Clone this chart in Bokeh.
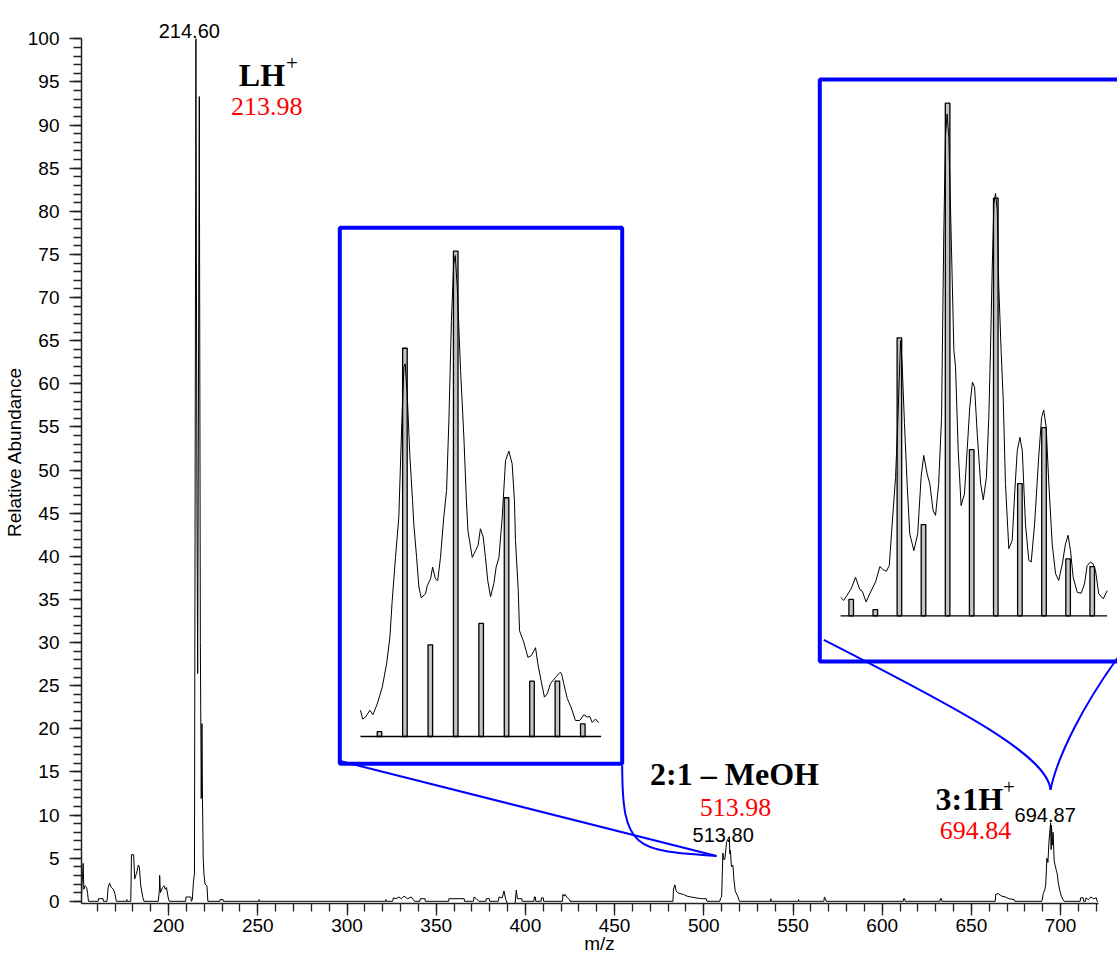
from bokeh.plotting import figure
from bokeh.models import Range1d, FixedTicker, Label
from bokeh.embed import file_html
from bokeh.resources import INLINE

# ---------------- data ----------------
# main spectrum (m/z, relative abundance)
main_mz = [151.1, 151.5, 152.1, 152.5, 153.1, 154.1, 154.6, 155.1,
           160.5, 160.7, 163.3, 163.5,
           165.5, 166.1, 166.9, 167.9, 169.1, 170.0, 170.7,
           176.4, 176.6, 176.8,
           178.8, 179.2, 180.4, 181.0, 181.6, 182.2, 183.0, 183.6, 184.4, 185.6, 186.2,
           194.2, 194.8, 195.0, 195.4, 196.6, 197.4, 198.2, 198.8, 199.8, 200.4,
           209.6, 209.7, 212.5, 212.7,
           213.3, 213.9, 214.5, 215.3, 215.9, 216.3, 217.2, 217.8, 218.3, 218.7, 219.0,
           219.4, 219.8, 220.4, 221.5, 222.0,
           228.7, 228.9, 230.5, 230.7, 250.5, 250.7, 250.9,
           321.6, 321.8, 322.0,
           325.6, 326.0, 327.5, 329.0, 330.5, 332.0, 334.0, 336.0, 337.9,
           340.9, 341.1, 343.7, 343.9, 356.9, 357.1, 365.7, 365.9,
           370.9, 371.2, 372.5, 373.9, 377.9, 378.1, 379.8, 380.0,
           384.8, 385.2, 387.0, 388.0, 389.0, 390.0, 391.5, 393.0, 394.0, 394.9, 395.5, 398.0, 398.2,
           404.8, 405.0, 405.6, 405.8, 408.8, 409.0, 410.0, 410.2,
           420.8, 421.0, 421.7, 422.3, 423.5, 424.7, 425.0,
           482.7, 483.0, 483.8, 484.5, 485.3, 486.6, 488.6, 490.6, 492.7, 495.7, 498.8, 501.4, 501.8,
           509.0, 509.4, 510.0, 510.7, 511.3, 511.8, 512.8, 514.3, 514.6, 514.9, 515.5, 516.3,
           516.9, 517.6, 519.0, 520.0,
           537.4, 537.6, 537.8, 552.9, 553.1, 553.3, 567.3, 567.6, 568.2, 568.5,
           611.8, 612.0, 612.6, 612.8, 632.4, 632.6, 633.2, 633.4,
           663.4, 663.6, 665.0, 667.0, 669.0, 671.0, 674.0, 674.4,
           689.5, 690.3, 691.2, 691.7, 692.3, 692.9, 693.5, 694.4, 694.7, 694.9, 695.3, 695.8,
           696.4, 697.0, 697.6, 698.1, 698.8, 699.6, 700.4, 701.3, 702.0,
           711.0, 711.2, 712.7, 712.9, 714.0, 714.2, 715.5, 717.0, 718.5, 720.0, 720.5, 721.0]
main_int = [0.0, 2.0, 4.4, 1.4, 1.8, 1.6, 0.9, 0.0,
            0.0, 0.3, 0.3, 0.0,
            0.0, 1.6, 2.1, 1.6, 1.4, 0.8, 0.0,
            0.0, 0.2, 0.0,
            0.0, 5.4, 5.4, 2.6, 3.0, 3.4, 4.2, 4.0, 1.8, 0.4, 0.0,
            0.0, 1.2, 3.0, 1.0, 1.6, 1.8, 1.4, 1.6, 0.4, 0.0,
            0.0, 0.5, 0.5, 0.0,
            0.2, 2.2, 3.2, 100.0, 46.0, 26.4, 93.3, 30.0, 11.9, 20.6, 11.9,
            5.0, 3.2, 2.0, 1.8, 0.0,
            0.0, 0.2, 0.2, 0.0, 0.0, 0.2, 0.0,
            0.0, 0.2, 0.0,
            0.0, 0.4, 0.3, 0.5, 0.3, 0.6, 0.3, 0.5, 0.0,
            0.0, 0.3, 0.3, 0.0, 0.0, 0.3, 0.3, 0.0,
            0.0, 0.5, 0.3, 0.0, 0.0, 0.3, 0.3, 0.0,
            0.0, 0.5, 0.4, 1.2, 0.2, -0.3, -0.5, -0.2, -0.8, 1.3, 0.3, 0.3, 0.0,
            0.0, 0.5, 0.5, 0.0, 0.0, 0.4, 0.4, 0.0,
            0.0, 0.8, 0.6, 0.8, 0.4, 0.2, 0.0,
            0.0, 1.4, 1.9, 1.2, 1.0, 0.9, 0.8, 0.6, 0.5, 0.4, 0.3, 0.3, 0.0,
            0.0, 0.4, 0.5, 5.6, 4.8, 4.9, 6.9, 7.5, 5.5, 5.9, 4.0, 4.2,
            2.5, 1.2, 0.6, 0.0,
            0.0, 0.3, 0.0, 0.0, 0.2, 0.0, 0.0, 0.5, 0.3, 0.0,
            0.0, 0.3, 0.3, 0.0, 0.0, 0.3, 0.3, 0.0,
            0.0, 0.8, 0.9, 0.6, 0.5, 0.3, 0.2, 0.0,
            0.0, 0.9, 1.4, 2.0, 5.0, 4.5, 7.0, 9.1, 6.0, 8.8, 6.5, 8.0,
            4.7, 4.1, 3.6, 3.2, 2.0, 1.2, 0.6, 0.2, 0.0,
            0.0, 0.4, 0.4, 0.0, 0.0, 0.4, 0.2, 0.5, 0.3, 0.4, 0.0, 0.0]

# inset 1 : 2:1 - MeOH cluster (theoretical bars + measured profile)
in1_bar_mz = [511, 512, 513, 514, 515, 516, 517, 518, 519]
in1_bar_int = [1.0, 80.0, 18.9, 100.0, 23.3, 49.2, 11.4, 11.4, 2.6]
in1_prof_mz = [510.25, 510.34, 510.45, 510.62, 510.74, 510.91, 511.11, 511.28, 511.41, 511.50,
               511.63, 511.76, 511.88, 511.96, 512.01, 512.09, 512.19, 512.30, 512.35, 512.46,
               512.55, 512.64, 512.81, 512.88, 513.01, 513.09, 513.20, 513.29, 513.40, 513.53,
               513.64, 513.73, 513.83, 513.92, 513.98, 514.06, 514.19, 514.32, 514.42, 514.48,
               514.65, 514.78, 514.88, 514.97, 515.08, 515.17, 515.26, 515.37, 515.50, 515.59,
               515.70, 515.83, 515.89, 515.96, 516.09, 516.22, 516.31, 516.35, 516.46, 516.51,
               516.68, 516.84, 516.98, 517.14, 517.23, 517.36, 517.49, 517.60, 517.73, 517.93,
               518.10, 518.16, 518.25, 518.39, 518.54, 518.71, 518.88, 519.04, 519.17, 519.28,
               519.37, 519.50, 519.63]
in1_prof_int = [5.4, 3.6, 4.0, 5.4, 4.5, 6.7, 10.2, 15.0, 20.5, 28.0,
                36.9, 45.2, 65.1, 76.1, 76.8, 70.6, 58.3, 48.6, 43.8, 36.9,
                30.8, 28.6, 29.4, 31.1, 32.5, 34.9, 32.5, 32.1, 36.9, 45.2,
                50.7, 65.1, 85.7, 97.4, 99.1, 92.6, 75.4, 61.7, 48.6, 42.4,
                36.9, 38.3, 39.4, 42.8, 41.1, 36.9, 32.1, 28.8, 31.5, 34.9,
                36.9, 45.2, 50.7, 56.9, 58.8, 56.2, 48.6, 40.4, 30.1, 21.8,
                19.4, 16.3, 16.7, 18.3, 15.0, 11.5, 8.1, 8.8, 10.9, 12.2,
                13.2, 13.0, 10.9, 7.8, 6.0, 3.3, 3.3, 4.5, 4.0, 4.1,
                2.9, 3.6, 2.8]

# inset 2 : 3:1H+ cluster
in2_bar_mz = [691, 692, 693, 694, 695, 696, 697, 698, 699, 700, 701]
in2_bar_int = [3.2, 1.2, 54.2, 17.8, 100.0, 32.4, 81.5, 25.8, 36.7, 11.1, 9.6]
in2_prof_mz = [690.56, 690.69, 690.83, 691.00, 691.18, 691.36, 691.46, 691.62, 691.77, 692.01,
               692.19, 692.33, 692.46, 692.58, 692.70, 692.84, 692.93, 693.02, 693.05, 693.12,
               693.21, 693.32, 693.43, 693.60, 693.76, 693.90, 694.01, 694.15, 694.26, 694.40,
               694.50, 694.63, 694.75, 694.84, 694.91, 694.98, 695.05, 695.15, 695.26, 695.33,
               695.44, 695.56, 695.70, 695.81, 695.92, 696.03, 696.12, 696.23, 696.37, 696.48,
               696.61, 696.71, 696.78, 696.85, 696.92, 696.99, 697.06, 697.12, 697.22, 697.31,
               697.40, 697.54, 697.68, 697.79, 697.89, 698.00, 698.10, 698.23, 698.37, 698.47,
               698.61, 698.78, 698.90, 698.99, 699.09, 699.20, 699.34, 699.48, 699.61, 699.76,
               699.89, 700.00, 700.10, 700.21, 700.38, 700.54, 700.68, 700.79, 700.93, 701.04,
               701.14, 701.27, 701.46, 701.62]
in2_prof_int = [3.6, 3.0, 4.0, 5.3, 7.5, 5.1, 4.8, 2.7, 4.3, 6.6,
                9.6, 9.0, 8.7, 9.8, 17.9, 27.0, 37.5, 49.8, 53.7, 48.5,
                37.5, 25.8, 16.0, 12.7, 16.0, 27.0, 31.3, 27.7, 25.8, 20.5,
                19.6, 25.8, 38.7, 73.9, 93.4, 97.9, 93.4, 73.9, 51.8, 48.5,
                32.2, 21.5, 23.8, 32.2, 40.7, 45.6, 44.6, 35.5, 25.8, 22.6,
                27.0, 38.7, 51.8, 67.4, 80.4, 82.4, 79.1, 64.8, 51.8, 42.0,
                25.8, 13.1, 14.7, 24.4, 32.2, 34.8, 32.2, 17.9, 10.8, 10.5,
                17.9, 30.9, 38.7, 40.1, 36.8, 25.8, 14.0, 8.2, 6.9, 10.1,
                14.0, 15.7, 12.7, 7.5, 4.6, 4.4, 6.2, 9.8, 10.5, 10.1,
                8.8, 4.3, 3.3, 4.9]

x_major = list(range(200, 701, 50))
x_minor = list(range(160, 721, 10))
y_major = list(range(0, 101, 5))
y_minor = list(range(0, 101, 1))

# ---------------- layout ----------------
W, H = 1117, 956
FL, FR, FT, FB = 81, 1117, 0, 903          # plot frame in page pixels
BLUE = "#0000ff"
SANS = "Liberation Sans"
SERIF = "Liberation Serif"


def frame_range(d0, p0, d1, p1, f_start, f_end):
    """Range whose value d0 falls on pixel p0 and d1 on pixel p1."""
    k = (d1 - d0) / (p1 - p0)
    return Range1d(start=d0 + (f_start - p0) * k, end=d0 + (f_end - p0) * k)


xr = frame_range(650, 970.9, 700, 1060.1, FL, FR)
yr = frame_range(0, 900.8, 100, 38.3, FB, FT)

p = figure(width=W, height=H, output_backend="svg", toolbar_location=None,
           x_range=xr, y_range=yr,
           min_border_left=FL, min_border_right=0, min_border_top=0,
           min_border_bottom=H - FB)
p.outline_line_color = None
p.grid.visible = False
p.background_fill_color = "white"
p.border_fill_color = "white"

p.extra_x_ranges = {
    "px": Range1d(FL, FR),
    "in1": frame_range(511, 379.0, 519, 582.3, FL, FR),
    "in2": frame_range(691, 850.7, 701, 1091.7, FL, FR),
}
p.extra_y_ranges = {
    "px": Range1d(FB, FT),
    "in1": frame_range(0, 736.0, 100, 250.7, FB, FT),
    "in2": frame_range(0, 615.3, 100, 102.7, FB, FT),
}

# axes
xa = p.xaxis[0]
xa.ticker = FixedTicker(ticks=x_major, minor_ticks=x_minor)
xa.bounds = (xr.start, 721)
ya = p.yaxis[0]
ya.ticker = FixedTicker(ticks=y_major, minor_ticks=y_minor)
ya.bounds = (yr.start, 100)
for ax in (xa, ya):
    ax.axis_line_color = "#222222"
    ax.axis_line_width = 1.5
    ax.major_tick_line_color = "#222222"
    ax.minor_tick_line_color = "#222222"
    ax.major_tick_line_width = 1.3
    ax.minor_tick_line_width = 1.3
    ax.major_tick_in = 0
    ax.major_tick_out = 12
    ax.minor_tick_in = 0
    ax.minor_tick_out = 8
    ax.major_label_text_font = SANS
    ax.major_label_text_font_size = "19px"
    ax.major_label_text_color = "black"
    ax.axis_label_text_font = SANS
    ax.axis_label_text_font_size = "19px"
    ax.axis_label_text_font_style = "normal"
    ax.axis_label_text_color = "black"
xa.major_label_standoff = 3
xa.axis_label = "m/z"
xa.axis_label_standoff = -2
ya.major_label_standoff = 10
ya.axis_label = "Relative Abundance"
ya.axis_label_standoff = 0

# main spectrum
p.line(main_mz, main_int, line_color="black", line_width=1)

# inset 1
p.vbar(x=in1_bar_mz, top=in1_bar_int, bottom=0, width=0.18,
       fill_color="#c4c4c4", line_color="black", line_width=1.3,
       x_range_name="in1", y_range_name="in1")
p.line(in1_prof_mz, in1_prof_int, line_color="black", line_width=1,
       x_range_name="in1", y_range_name="in1")
p.line([min(in1_prof_mz), max(in1_prof_mz) + 0.09], [0, 0], line_color="black", line_width=1.3,
       x_range_name="in1", y_range_name="in1")

# inset 2
p.vbar(x=in2_bar_mz, top=in2_bar_int, bottom=0, width=0.19,
       fill_color="#c4c4c4", line_color="black", line_width=1.3,
       x_range_name="in2", y_range_name="in2")
p.line(in2_prof_mz, in2_prof_int, line_color="black", line_width=1,
       x_range_name="in2", y_range_name="in2")
p.line([min(in2_prof_mz), max(in2_prof_mz)], [0, 0], line_color="black", line_width=1.3,
       x_range_name="in2", y_range_name="in2")

# inset frames (page pixels)
p.quad(left=[339.3, 819.3], right=[621.7, 1130], top=[227.3, 79], bottom=[763.3, 661],
       fill_color=None, line_color=BLUE, line_width=4,
       x_range_name="px", y_range_name="px")

# connectors (page pixels)
p.line([339.5, 716], [760.5, 855.5], line_color=BLUE, line_width=2,
       x_range_name="px", y_range_name="px")
p.bezier(x0=[621.7, 823.3, 1050], y0=[765, 639.3, 789.3],
         x1=[716, 1050, 1130], y1=[855.5, 789.3, 640],
         cx0=[621.7, 960, 1056], cy0=[850, 709, 760],
         cx1=[635, 1047, 1080], cy1=[850, 755, 705],
         line_color=BLUE, line_width=2, x_range_name="px", y_range_name="px")


def txt(x, y, s, font, size, color="black", style="normal", align="center"):
    p.add_layout(Label(x=x, y=y, text=s, x_range_name="px", y_range_name="px",
                       text_font=font, text_font_size=size, text_color=color,
                       text_font_style=style, text_align=align,
                       text_baseline="alphabetic"))


txt(188.8, 30.7, "214.60", SANS, "20px")
txt(238.3, 74, "LH", SERIF, "32px", style="bold", align="left")
txt(285.5, 62, "+", SERIF, "21px", align="left")
txt(266.3, 106, "213.98", SERIF, "26px", color="#ff0000")

txt(734, 773, "2:1 \u2013 MeOH", SERIF, "32px", style="bold")
txt(735, 807, "513.98", SERIF, "26px", color="#ff0000")
txt(722.7, 834, "513.80", SANS, "20px")

txt(935, 798, "3:1H", SERIF, "32px", style="bold", align="left")
txt(1002.5, 786, "+", SERIF, "21px", align="left")
txt(975, 830, "694.84", SERIF, "26px", color="#ff0000")
txt(1044.7, 814, "694.87", SANS, "20px")

open("out.html", "w").write(file_html(p, INLINE))
